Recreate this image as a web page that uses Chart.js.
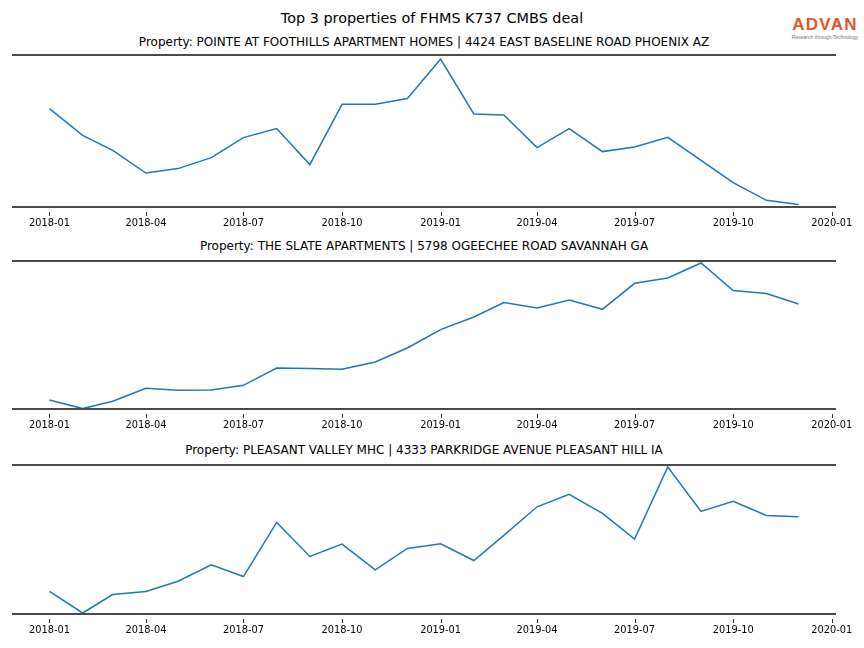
<!DOCTYPE html>
<html>
<head>
<meta charset="utf-8">
<script src="https://cdn.jsdelivr.net/npm/chart.js@4.4.1/dist/chart.umd.min.js"></script>
<style>
  html, body { margin: 0; padding: 0; background: #fff; }
  body { width: 864px; height: 648px; position: relative; overflow: hidden; font-family: "DejaVu Sans", sans-serif; }
  .title { position: absolute; left: 0; width: 864px; text-align: center; color: #000; white-space: nowrap; line-height: 17px; }
  .sub { position: absolute; left: 12px; width: 824px; text-align: center; color: #000; white-space: nowrap; font-size: 12px; line-height: 14px; }
  .cv { position: absolute; left: 0; width: 864px; }
  #logo { position: absolute; left: 786px; top: 16px; width: 78px; text-align: center; }
  #logo .big { font-family: "Liberation Sans", Arial, sans-serif; font-weight: bold; font-size: 17px; color: #e4552b; letter-spacing: 1.3px; line-height: 18px; }
  #logo .small { font-family: "Liberation Sans", Arial, sans-serif; font-size: 5px; color: #777; line-height: 6px; white-space: nowrap; }
</style>
</head>
<body>
<div class="title" style="top:10px;font-size:14.4px;">Top 3 properties of FHMS K737 CMBS deal</div>
<div id="logo"><div class="big">ADVAN</div><div class="small">Research through Technology</div></div>

<div class="sub" style="top:35px;">Property: POINTE AT FOOTHILLS APARTMENT HOMES | 4424 EAST BASELINE ROAD PHOENIX AZ</div>
<div class="sub" style="top:239px;">Property: THE SLATE APARTMENTS | 5798 OGEECHEE ROAD SAVANNAH GA</div>
<div class="sub" style="top:443px;">Property: PLEASANT VALLEY MHC | 4333 PARKRIDGE AVENUE PLEASANT HILL IA</div>

<canvas id="c1" class="cv" style="top:45px;" width="864" height="188"></canvas>
<canvas id="c2" class="cv" style="top:251px;" width="864" height="184"></canvas>
<canvas id="c3" class="cv" style="top:455px;" width="864" height="185"></canvas>

<script>
// ---- data ----
const months = ["2018-01","2018-02","2018-03","2018-04","2018-05","2018-06","2018-07","2018-08","2018-09","2018-10","2018-11","2018-12",
                "2019-01","2019-02","2019-03","2019-04","2019-05","2019-06","2019-07","2019-08","2019-09","2019-10","2019-11","2019-12"];
const tickLabels = ["2018-01","2018-04","2018-07","2018-10","2019-01","2019-04","2019-07","2019-10","2020-01"];

const titles = [
  "Property: POINTE AT FOOTHILLS APARTMENT HOMES | 4424 EAST BASELINE ROAD PHOENIX AZ",
  "Property: THE SLATE APARTMENTS | 5798 OGEECHEE ROAD SAVANNAH GA",
  "Property: PLEASANT VALLEY MHC | 4333 PARKRIDGE AVENUE PLEASANT HILL IA"
];

const pointeValues   = [98.4, 71.7, 56.7, 34, 38.4, 49.4, 69.4, 78.4, 42.4, 102.7, 102.7, 108.4,
                        148, 93, 92, 59.4, 78.4, 55.4, 60, 69.7, 46.7, 24.4, 6.7, 2.4];
const slateValues    = [9, 0.4, 7.7, 20.7, 18.7, 19, 23.7, 41, 40.4, 39.7, 47, 61,
                        79.4, 92, 106.4, 101, 109, 99.7, 125.7, 131, 146, 118.4, 115.4, 105];
const pleasantValues = [22.7, 1, 19.4, 22.4, 32.7, 49, 37.4, 91.4, 57.4, 69.7, 44, 65.4,
                        70, 53.4, 78.5, 107, 119.4, 100.4, 74.7, 146.7, 102.4, 112.4, 98.4, 97];

const yMax = [152, 148, 148.7];

// ---- helpers ----
const DAY = 86400000;
const base = Date.UTC(2018, 0, 1);
function dayOf(ym) { const [y, m] = ym.split("-").map(Number); return (Date.UTC(y, m - 1, 1) - base) / DAY; }
const monthDays = months.map(dayOf);
const tickDays = tickLabels.map(dayOf);
const span = monthDays[monthDays.length - 1] - monthDays[0];
const xMin = monthDays[0] - span * 0.05;
const xMax = monthDays[monthDays.length - 1] + span * 0.05;

const spinePlugin = {
  id: 'spines',
  afterDraw(chart) {
    const { ctx, chartArea: a, scales: { x } } = chart;
    ctx.save();
    ctx.strokeStyle = '#4a4a4a';
    ctx.lineWidth = 2;
    ctx.beginPath();
    ctx.moveTo(a.left, a.top); ctx.lineTo(a.right, a.top);
    ctx.moveTo(a.left, a.bottom); ctx.lineTo(a.right, a.bottom);
    ctx.stroke();
    ctx.strokeStyle = '#333';
    ctx.lineWidth = 1;
    ctx.beginPath();
    x.ticks.forEach(t => {
      const px = Math.round(x.getPixelForValue(t.value)) + 0.5;
      ctx.moveTo(px, a.bottom + 5);
      ctx.lineTo(px, a.bottom + 9);
    });
    ctx.stroke();
    ctx.restore();
  }
};

function makeChart(id, values, ymax) {
  const pts = monthDays.map((d, i) => ({ x: d, y: values[i] }));
  return new Chart(document.getElementById(id), {
    type: 'line',
    data: { datasets: [{ data: pts, borderColor: '#1f77b4', borderWidth: 1.5, pointRadius: 0, fill: false, tension: 0 }] },
    options: {
      responsive: false,
      animation: false,
      events: [],
      layout: { padding: { left: 12, right: 28, top: 10, bottom: 0 } },
      plugins: { legend: { display: false }, tooltip: { enabled: false }, title: { display: false } },
      scales: {
        x: {
          type: 'linear', min: xMin, max: xMax,
          grid: { display: false, drawTicks: false },
          border: { display: false },
          afterBuildTicks(s) { s.ticks = tickDays.map(v => ({ value: v })); },
          afterFit(s) { s.height = 26; },
          ticks: {
            autoSkip: false, maxRotation: 0, minRotation: 0, padding: 11,
            color: '#000',
            font: { family: 'DejaVu Sans', size: 9.8 },
            callback: (v) => { const i = tickDays.indexOf(v); return i >= 0 ? tickLabels[i] : ''; }
          }
        },
        y: { display: false, min: 0, max: ymax }
      }
    },
    plugins: [spinePlugin]
  });
}

makeChart('c1', pointeValues, yMax[0]);
makeChart('c2', slateValues, yMax[1]);
makeChart('c3', pleasantValues, yMax[2]);
</script>
</body>
</html>
